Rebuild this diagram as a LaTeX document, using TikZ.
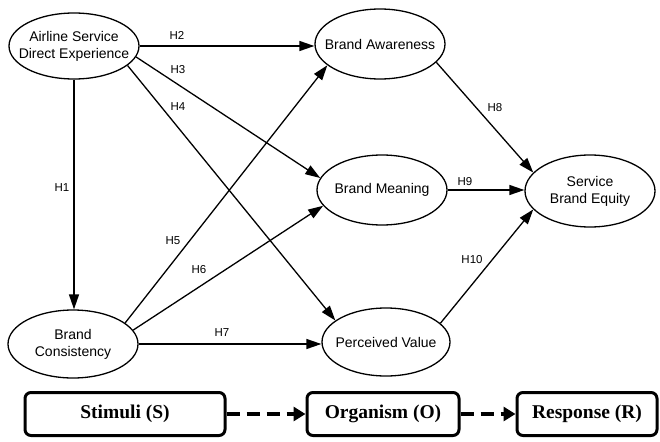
\documentclass[tikz,border=0pt]{standalone}
\usepackage{fontspec}
\setmainfont{Liberation Sans}
\newfontfamily\boxfont{Liberation Serif}
\usetikzlibrary{shapes.geometric,arrows.meta}
\begin{document}
\begin{tikzpicture}[x=1pt,y=-1pt,
  construct/.style={ellipse,draw,line width=1.3pt,minimum width=130pt,minimum height=68pt,
    inner xsep=-25pt,inner ysep=0pt,align=center,font=\fontsize{14}{17}\selectfont},
  hyp/.style={draw,line width=1.3pt,-{Triangle[length=15pt,width=10pt]}},
  hlabel/.style={font=\fontsize{11.5}{13}\selectfont,inner sep=0pt},
  stage/.style={draw,line width=3pt,rounded corners=6pt,minimum height=43pt,
    font=\boxfont\bfseries\fontsize{19.5}{22}\selectfont},
  flow/.style={draw,line width=3.5pt,dash pattern=on 13pt off 7pt,-{Triangle[length=12pt,width=14pt]}}
]
\useasboundingbox (0,0) rectangle (660,441);
\fill[white] (0,0) rectangle (660,441);

\node[construct,minimum height=66pt] (asde) at (74,46) {Airline Service\\Direct Experience};
\node[construct,minimum height=70pt] (ba) at (380,44) {Brand Awareness};
\node[construct,minimum height=70pt] (bm) at (382,190) {Brand Meaning};
\node[construct,minimum height=72pt] (sbe) at (590,191) {Service\\Brand Equity};
\node[construct] (bc) at (73,344) {Brand\\Consistency};
\node[construct,minimum width=128pt] (pv) at (386,342) {Perceived Value};

\draw[hyp] (asde.south) -- (asde.south |- bc.north);
\draw[hyp] (asde.east) -- (asde.east -| ba.west);
\draw[hyp] (asde.-10) -- (bm.169);
\draw[hyp] (asde.-20) -- (pv.157);
\draw[hyp] (bc.22) -- (ba.-158);
\draw[hyp] (bc.13) -- (bm.-165);
\draw[hyp] (bc.east) -- (bc.east -| pv.west);
\draw[hyp] (ba.-18) -- (sbe.162);
\draw[hyp] (bm.east) -- (bm.east -| sbe.west);
\draw[hyp] (pv.19) -- (sbe.-162);

\node[hlabel] (l1) at (62,188) {H1};
\node[hlabel] (l2) at (177,35) {H2};
\node[hlabel] (l3) at (178,70) {H3};
\node[hlabel] (l4) at (178,107) {H4};
\node[hlabel] (l5) at (173,241) {H5};
\node[hlabel] (l6) at (199,270) {H6};
\node[hlabel] (l7) at (222,333) {H7};
\node[hlabel] (l8) at (495,108) {H8};
\node[hlabel] (l9) at (465,182) {H9};
\node[hlabel] (l10) at (472,260) {H10};

\node[stage,minimum width=200pt] (s) at (125,414) {Stimuli (S)};
\node[stage,minimum width=152pt] (o) at (383,414) {Organism (O)};
\node[stage,minimum width=140pt] (r) at (587,414) {Response (R)};
\draw[flow] (s) -- (o);
\draw[flow] (o) -- (r);
\end{tikzpicture}
\end{document}
